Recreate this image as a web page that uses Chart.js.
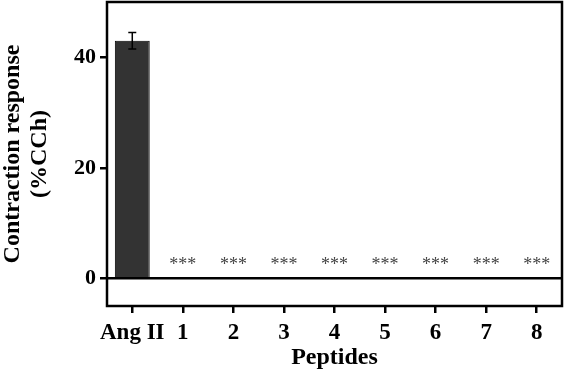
<!DOCTYPE html>
<html>
<head>
<meta charset="utf-8">
<script src="https://cdn.jsdelivr.net/npm/chart.js@4/dist/chart.umd.min.js"></script>
<style>
  html, body { margin: 0; padding: 0; background: #fff; }
  #wrap { width: 566px; height: 372px; }
</style>
</head>
<body>
<div id="wrap"><canvas id="c"></canvas></div>
<script>
// data
const labels = ['Ang II', '1', '2', '3', '4', '5', '6', '7', '8'];
const response = [43, 0, 0, 0, 0, 0, 0, 0, 0];
const sem = [1.5, 0, 0, 0, 0, 0, 0, 0, 0];
const marks = ['', '***', '***', '***', '***', '***', '***', '***', '***'];
const yTicks = [0, 20, 40];

const serif = '"Liberation Serif", "Times New Roman", serif';

// frame, zero line, error bars, significance stars
const extras = {
  id: 'extras',
  afterDatasetsDraw(chart) {
    const ctx = chart.ctx;
    const a = chart.chartArea;
    const x = chart.scales.x, y = chart.scales.y;
    ctx.save();
    ctx.strokeStyle = '#000';

    // zero line
    ctx.lineWidth = 2.5;
    const y0 = y.getPixelForValue(0);
    ctx.beginPath();
    ctx.moveTo(a.left, y0);
    ctx.lineTo(a.right, y0);
    ctx.stroke();

    // error bars
    ctx.lineWidth = 1.5;
    response.forEach((v, i) => {
      if (!sem[i]) return;
      const cx = x.getPixelForValue(i);
      const hi = y.getPixelForValue(v + sem[i]);
      const lo = y.getPixelForValue(v - sem[i]);
      ctx.beginPath();
      ctx.moveTo(cx, hi); ctx.lineTo(cx, lo);
      ctx.moveTo(cx - 4, hi); ctx.lineTo(cx + 4, hi);
      ctx.moveTo(cx - 4, lo); ctx.lineTo(cx + 4, lo);
      ctx.stroke();
    });

    // stars
    ctx.fillStyle = '#444';
    ctx.font = '18px ' + serif;
    ctx.textAlign = 'center';
    ctx.textBaseline = 'alphabetic';
    marks.forEach((m, i) => {
      if (!m) return;
      ctx.fillText(m, x.getPixelForValue(i), y.getPixelForValue(response[i]) - 8);
    });

    // frame
    ctx.lineWidth = 2.5;
    ctx.strokeRect(a.left, a.top, a.right - a.left, a.bottom - a.top);
    ctx.restore();
  }
};

new Chart(document.getElementById('c'), {
  type: 'bar',
  data: {
    labels: labels,
    datasets: [{
      data: response,
      backgroundColor: '#333333',
      borderColor: '#000',
      borderWidth: 1,
      barPercentage: 0.69,
      categoryPercentage: 1.0
    }]
  },
  options: {
    responsive: true,
    maintainAspectRatio: false,
    animation: false,
    layout: { padding: { top: 2, right: 4, left: 0, bottom: 0 } },
    plugins: { legend: { display: false }, tooltip: { enabled: false } },
    scales: {
      x: {
        offset: true,
        afterFit: s => { s.height = 66; s.paddingLeft = 0; s.paddingRight = 0; },
        grid: { offset: false, drawOnChartArea: false, drawTicks: true, tickLength: 7, color: '#000', lineWidth: 2.5 },
        border: { display: false },
        ticks: { color: '#000', padding: 6, font: { family: serif, size: 23, weight: 'bold' }, maxRotation: 0, autoSkip: false },
        title: { display: true, text: 'Peptides', color: '#000', padding: { top: 0, bottom: 0 },
                 font: { family: serif, size: 24, weight: 'bold' } }
      },
      y: {
        min: -5,
        max: 50,
        afterFit: s => { s.width = 107; s.paddingTop = 0; s.paddingBottom = 0; },
        afterBuildTicks: s => { s.ticks = yTicks.map(v => ({ value: v })); },
        grid: { drawOnChartArea: false, drawTicks: true, tickLength: 7, color: '#000', lineWidth: 2.5 },
        border: { display: false },
        ticks: { color: '#000', padding: 4, font: { family: serif, size: 22, weight: 'bold' } },
        title: { display: true, text: ['Contraction response', '(%CCh)'], color: '#000', padding: { top: 0, bottom: 4 },
                 font: { family: serif, size: 24, weight: 'bold', lineHeight: 1.1 } }
      }
    }
  },
  plugins: [extras]
});
</script>
</body>
</html>
